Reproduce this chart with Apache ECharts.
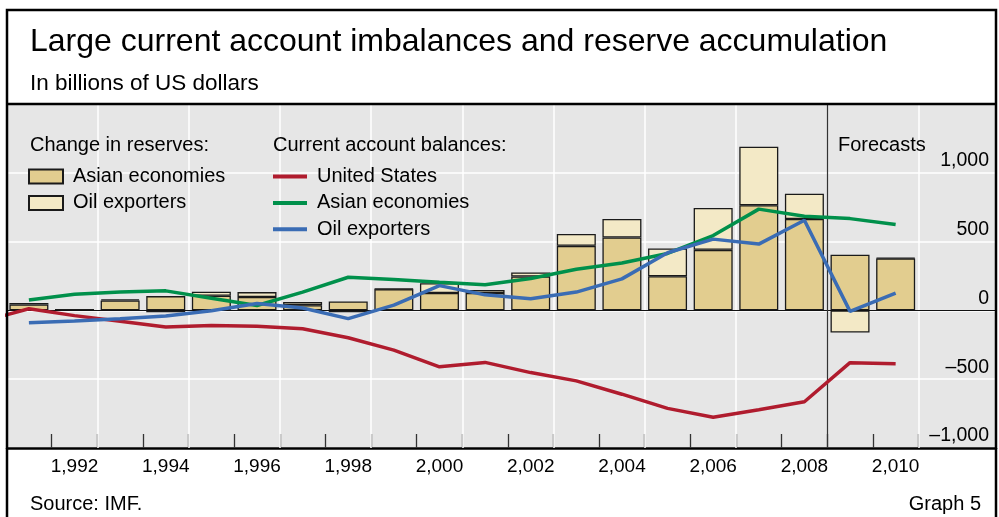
<!DOCTYPE html>
<html>
<head>
<meta charset="utf-8">
<script src="https://cdn.jsdelivr.net/npm/echarts@6/dist/echarts.min.js"></script>
<style>
	html, body { margin: 0; padding: 0; background: #fff; }
	#chart { width: 999px; height: 517px; }
</style>
</head>
<body>
<div id="chart"></div>
<script>
/* Data, in billions of US dollars */
const years = [1991, 1992, 1993, 1994, 1995, 1996, 1997, 1998, 1999, 2000,
	2001, 2002, 2003, 2004, 2005, 2006, 2007, 2008, 2009, 2010];
const reservesAsia = [43, 6, 72, 104, 106, 97, 38, 65, 154, 126,
	126, 246, 469, 530, 248, 440, 764, 664, 404, 378];
const reservesOil = [10, 0, 8, -14, 30, 36, 23, -14, 3, 72,
	23, 30, 87, 134, 202, 304, 426, 184, -161, 5];
/* US series starts one year earlier, clipped at the left edge */
const usYears = [1990].concat(years);
const caUnitedStates = [-79, 12, -38, -79, -120, -110, -115, -134, -199, -289, -410,
	-378, -452, -512, -609, -712, -777, -722, -664, -380, -387];
const caAsia = [75, 118, 133, 142, 89, 36, 133, 241, 225, 205,
	186, 232, 299, 344, 414, 544, 736, 684, 667, 624];
const caOil = [-89, -77, -60, -41, -2, 50, 17, -60, 38, 180,
	113, 84, 133, 229, 419, 518, 482, 655, -7, 126];

const yearLabels = [1992, 1994, 1996, 1998, 2000, 2002, 2004, 2006, 2008, 2010];
const yearTicks = years.map(y => y + 0.5);
const gridYears = [1992.5, 1994.5, 1996.5, 1998.5, 2000.5, 2002.5, 2004.5, 2006.5, 2010.5];
const forecastStart = 2008.5;

/* Styles */
const FONT = "'Liberation Sans', Arial, sans-serif";
const colors = {
	plotBg: "#e6e6e6",
	reserveAsia: "#e2cd8f",
	reserveOil: "#f3e9c6",
	us: "#b01c2e",
	asia: "#00904b",
	oil: "#3a6cb4",
};

function thousands(v) {
	const s = String(Math.abs(v)).replace(/\B(?=(\d{3})+(?!\d))/g, ",");
	return v < 0 ? "\u2013" + s : s;
}

/*
 * Bars keep the value in the first column so that the stack runs on y
 */
const barSeries = (name, values, color, extra) => Object.assign({
	name: name,
	type: "bar",
	stack: "reserves",
	barWidth: 39,
	z: 2,
	encode: { x: 1, y: 0 },
	itemStyle: {
		color: color,
		borderColor: "#1a1a1a",
		borderWidth: 1.3,
	},
	data: values.map((v, i) => [v, years[i]]),
}, extra || {});

const lineSeries = (name, xs, values, color) => ({
	name: name,
	type: "line",
	symbol: "none",
	z: 4,
	lineStyle: { color: color, width: 3.5 },
	itemStyle: { color: color },
	data: xs.map((x, i) => [x, values[i]]),
});

/* Gridlines and reference lines drawn as mark lines */
const underLines = {
	silent: true,
	symbol: "none",
	animation: false,
	label: { show: false },
	z: 1,
	data: gridYears.map(x => ({ xAxis: x, lineStyle: { color: "#fff", width: 1.5, type: "solid" } })),
};
const overLines = {
	silent: true,
	symbol: "none",
	animation: false,
	label: { show: false },
	z: 3,
	data: [
		{ yAxis: 0, lineStyle: { color: "#111", width: 1.2, type: "solid" } },
		{ xAxis: forecastStart, lineStyle: { color: "#333", width: 1.2, type: "solid" } },
	],
};

const textBlock = (text, left, top, size, extra) => Object.assign({
	text: text,
	left: left,
	top: top,
	padding: 0,
	textStyle: { fontFamily: FONT, fontSize: size, fontWeight: "normal", color: "#000" },
}, extra || {});

const legendBase = (left) => ({
	orient: "vertical",
	left: left,
	top: 166,
	padding: 0,
	itemGap: 5.4,
	itemWidth: 34,
	selectedMode: false,
	icon: "rect",
	textStyle: { fontSize: 20, color: "#000", lineHeight: 21, padding: [0, 0, 0, 5] },
});

const option = {
	animation: false,
	backgroundColor: "#fff",
	textStyle: { fontFamily: FONT },
	title: [
		textBlock("Large current account imbalances and reserve accumulation", 30, 26, 32),
		textBlock("In billions of US dollars", 30, 72, 22.5),
		textBlock("Change in reserves:", 30, 135, 20),
		textBlock("Current account balances:", 273, 135, 20),
		textBlock("Forecasts", 838, 135, 20),
		textBlock("Source: IMF.", 30, 494, 20),
		textBlock("Graph 5", 0, 494, 20, { left: null, right: 18 }),
	],
	legend: [
		Object.assign(legendBase(28), {
			data: ["Asian economies", "Oil exporters"],
			itemHeight: 14,
		}),
		Object.assign(legendBase(273), {
			data: ["United States", "Asian economies CA", "Oil exporters CA"],
			itemHeight: 4,
			formatter: name => name.replace(" CA", ""),
		}),
	],
	grid: {
		left: 7,
		right: 3,
		top: 104,
		height: 344,
		show: true,
		backgroundColor: colors.plotBg,
		borderWidth: 0,
	},
	xAxis: {
		type: "value",
		min: 1990.52,
		max: 2012.2,
		axisLine: { show: true, onZero: false, lineStyle: { color: "#000", width: 2.5 } },
		axisTick: {
			show: true,
			inside: true,
			length: 14,
			customValues: yearTicks,
			lineStyle: { color: "#333", width: 1.3 },
		},
		axisLabel: {
			customValues: yearLabels,
			margin: 9,
			fontSize: 19,
			color: "#000",
		},
		splitLine: { show: false },
	},
	yAxis: {
		type: "value",
		position: "right",
		min: -1000,
		max: 1500,
		interval: 500,
		axisLine: { show: false },
		axisTick: { show: false },
		axisLabel: {
			inside: true,
			margin: 7,
			fontSize: 19.5,
			color: "#000",
			verticalAlign: "bottom",
			padding: [0, 0, 2, 0],
			showMaxLabel: false,
			formatter: thousands,
		},
		splitLine: { lineStyle: { color: "#fff", width: 1.5 } },
	},
	series: [
		barSeries("Asian economies", reservesAsia, colors.reserveAsia, { markLine: underLines }),
		barSeries("Oil exporters", reservesOil, colors.reserveOil, { markLine: overLines }),
		lineSeries("United States", usYears, caUnitedStates, colors.us),
		lineSeries("Asian economies CA", years, caAsia, colors.asia),
		lineSeries("Oil exporters CA", years, caOil, colors.oil),
	],
	graphic: [
		{
			type: "rect",
			z: 100,
			silent: true,
			shape: { x: 7, y: 10, width: 989, height: 600 },
			style: { fill: null, stroke: "#000", lineWidth: 2.5 },
		},
		{
			type: "line",
			z: 100,
			silent: true,
			shape: { x1: 7, y1: 104, x2: 996, y2: 104 },
			style: { stroke: "#000", lineWidth: 2.5 },
		},
	],
};

const myChart = echarts.init(document.getElementById("chart"), null, { renderer: "canvas" });
myChart.setOption(option);
</script>
</body>
</html>
